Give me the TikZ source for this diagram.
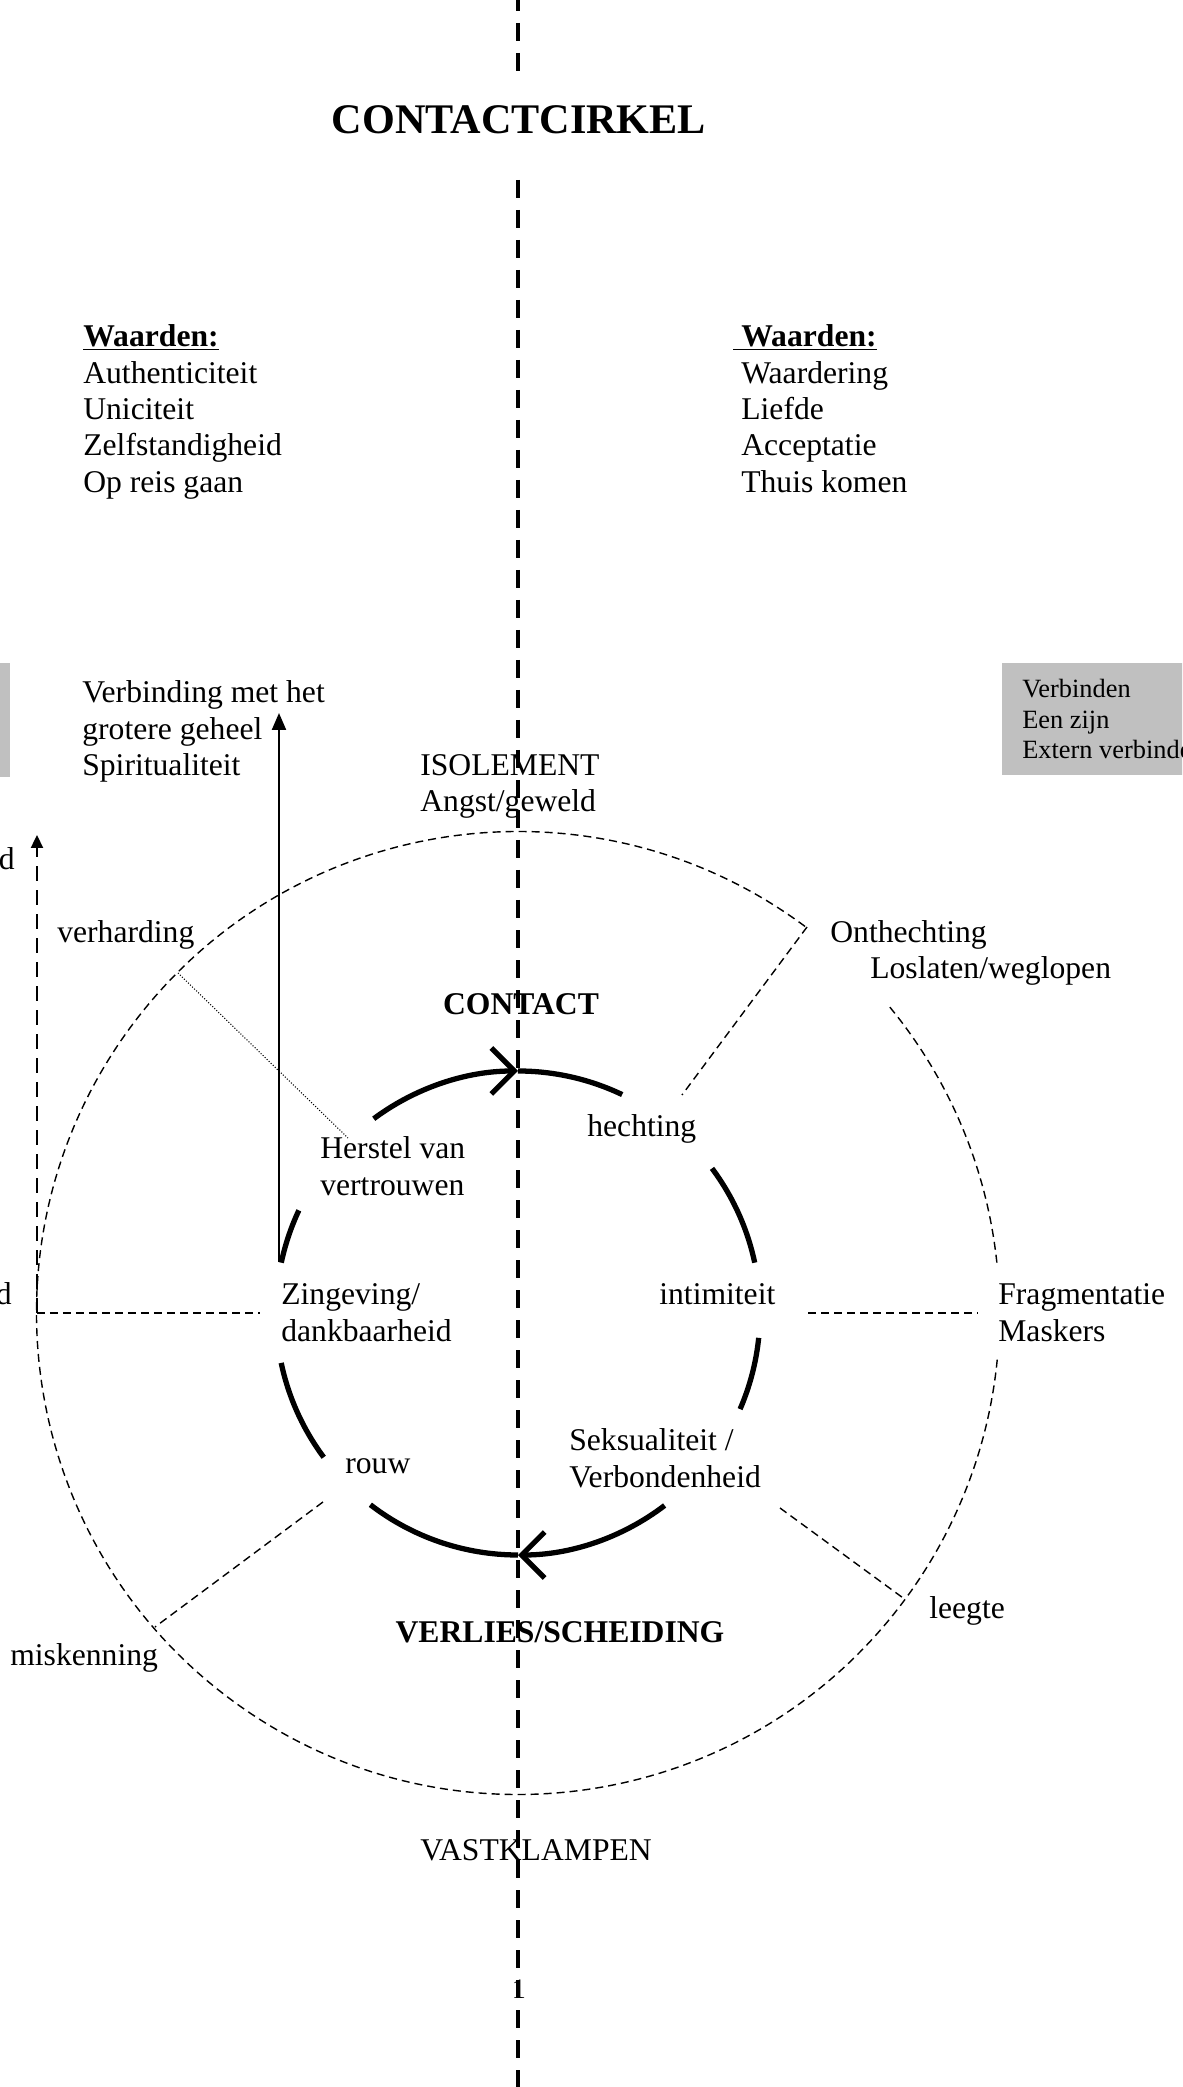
\documentclass[tikz,border=0pt]{standalone}
\usepackage{fontspec}
\setmainfont{Liberation Serif}
\usepackage{tikz}
\usetikzlibrary{arrows.meta}
\definecolor{boxgray}{HTML}{C0C0C0}

\begin{document}
\begin{tikzpicture}[
    lbl/.style={inner sep=0pt, align=left, font=\fontsize{18}{20.7}\selectfont},
    boldlbl/.style={lbl, font=\fontsize{18}{20.7}\selectfont\bfseries},
    axisline/.style={line width=2.3pt, dash pattern=on 0.36cm off 0.24cm},
    outerring/.style={line width=0.8pt, dash pattern=on 0.16cm off 0.1cm},
    spoke/.style={outerring},
    cyclearc/.style={line width=3pt},
    barb/.style={-{Straight Barb[length=0.46cm, width=0.92cm]}},
    graybox/.style={fill=boxgray}
  ]
  % Page frame
  \useasboundingbox (-10.36,-15.48) rectangle (13.28,26.26);
  \clip (-10.36,-15.48) rectangle (13.28,26.26);

  % Central axis, broken by the title
  \node[lbl, font=\fontsize{24}{28}\selectfont\bfseries] (title) at (0.02,23.86) {CONTACTCIRKEL};
  \draw[axisline] (0,26.4) -- (0,24.66);
  \draw[axisline] (0,22.66) -- (0,-15.6);

  % Values
  \node[lbl, anchor=north west] (waardenL) at (-8.70,19.77) {\textbf{\underline{Waarden:}}\\Authenticiteit\\Uniciteit\\Zelfstandigheid\\Op reis gaan};
  \node[lbl, anchor=north west] (waardenR) at (4.46,19.77) {\llap{\underline{\ }}\textbf{\underline{Waarden:}}\\Waardering\\Liefde\\Acceptatie\\Thuis komen};

  % Gray side boxes
  \fill[graybox] (-11,13.0) rectangle (-10.16,10.72);
  \fill[graybox] (9.68,13.0) rectangle (14,10.76);
  \node[lbl, anchor=north west, font=\fontsize{15}{17.3}\selectfont] (verbinden) at (10.08,12.68) {Verbinden\\Een zijn\\Extern verbinden};

  % Upward arrows
  \node[lbl, anchor=north west] (geheel) at (-8.72,12.65) {Verbinding met het\\grotere geheel\\Spiritualiteit};
  \coordinate (spiritBase) at (-4.78,1.02);
  \coordinate (spiritTop) at (-4.78,12.0);
  \draw[line width=1.3pt, -{Triangle[length=0.34cm, width=0.28cm]}] (spiritBase) -- (spiritTop);
  \node[lbl, anchor=base east] (dUp) at (-10.06,8.86) {d};
  \coordinate (leftBase) at (-9.62,0);
  \coordinate (leftTop) at (-9.62,9.56);
  \draw[line width=1.3pt, dash pattern=on 0.3cm off 0.18cm, -{Triangle[length=0.26cm, width=0.24cm]}] (leftBase) -- (leftTop);

  % Outer ring
  \draw[outerring] (53.4:9.63) arc[start angle=53.4, end angle=355, radius=9.63];
  \draw[outerring] (6:9.63) arc[start angle=6, end angle=39.8, radius=9.63];

  % Labels round the outer ring
  \node[lbl, anchor=north west] (isolement) at (-1.96,11.18) {ISOLEMENT\\Angst/geweld};
  \node[lbl, anchor=north west] (onthechting) at (6.24,7.86) {Onthechting\\\hspace*{0.8cm}Loslaten/weglopen};
  \node[lbl, anchor=base west] (verharding) at (-9.22,7.40) {verharding};
  \node[lbl, anchor=north west] (fragmentatie) at (9.60,0.59) {Fragmentatie\\Maskers};
  \node[lbl, anchor=base east] (dLow) at (-10.12,0.16) {d};
  \node[lbl, anchor=base west] (leegte) at (8.22,-6.10) {leegte};
  \node[lbl, anchor=base west] (miskenning) at (-10.16,-7.04) {miskenning};
  \node[lbl, anchor=base west] (vastklampen) at (-1.96,-10.94) {VASTKLAMPEN};
  \node[lbl, anchor=base, font=\fontsize{16}{18}\selectfont] (pagenr) at (0.02,-13.70) {1};

  % Spokes
  \coordinate (onthOut) at (5.78,7.72);
  \coordinate (onthIn) at (3.28,4.36);
  \draw[spoke] (onthOut) -- (onthIn);
  \coordinate (fragIn) at (5.8,0);
  \coordinate (fragOut) at (9.2,0);
  \draw[spoke] (fragIn) -- (fragOut);
  \coordinate (leegIn) at (5.24,-3.9);
  \coordinate (leegOut) at (-36.5:9.63);
  \draw[spoke] (leegIn) -- (leegOut);
  \coordinate (miskIn) at (-3.9,-3.78);
  \coordinate (miskOut) at (-7.26,-6.28);
  \draw[spoke] (miskIn) -- (miskOut);
  \coordinate (dankIn) at (-5.16,0);
  \draw[spoke] (leftBase) -- (dankIn);
  \coordinate (hardOut) at (-6.8,6.8);
  \coordinate (hardIn) at (-3.4,3.5);
  \draw[line width=0.6pt, densely dotted] (hardOut) -- (hardIn);

  % Inner cycle
  \node[boldlbl, anchor=base] (contact) at (0.06,5.96) {CONTACT};
  \node[boldlbl, anchor=base] (verlies) at (0.84,-6.58) {VERLIES/SCHEIDING};
  \node[lbl, anchor=base west] (hechting) at (1.38,3.52) {hechting};
  \node[lbl, anchor=north west] (herstel) at (-3.96,3.53) {Herstel van\\vertrouwen};
  \node[lbl, anchor=north west] (zingeving) at (-4.74,0.59) {Zingeving/\\dankbaarheid};
  \node[lbl, anchor=base west] (intimiteit) at (2.82,0.18) {intimiteit};
  \node[lbl, anchor=base west] (rouw) at (-3.46,-3.20) {rouw};
  \node[lbl, anchor=north west] (seksualiteit) at (1.02,-2.31) {Seksualiteit /\\Verbondenheid};

  \draw[cyclearc, barb] (126.6:4.84) arc[start angle=126.6, end angle=90, radius=4.84];
  \draw[cyclearc] (90:4.84) arc[start angle=90, end angle=64.5, radius=4.84];
  \draw[cyclearc] (36.7:4.84) arc[start angle=36.7, end angle=12, radius=4.84];
  \draw[cyclearc] (-5.9:4.84) arc[start angle=-5.9, end angle=-23.4, radius=4.84];
  \draw[cyclearc, barb] (-52.7:4.84) arc[start angle=-52.7, end angle=-90, radius=4.84];
  \draw[cyclearc] (-90:4.84) arc[start angle=-90, end angle=-127.6, radius=4.84];
  \draw[cyclearc] (-143.4:4.84) arc[start angle=-143.4, end angle=-168.1, radius=4.84];
  \draw[cyclearc] (168:4.84) arc[start angle=168, end angle=154.9, radius=4.84];
\end{tikzpicture}
\end{document}
